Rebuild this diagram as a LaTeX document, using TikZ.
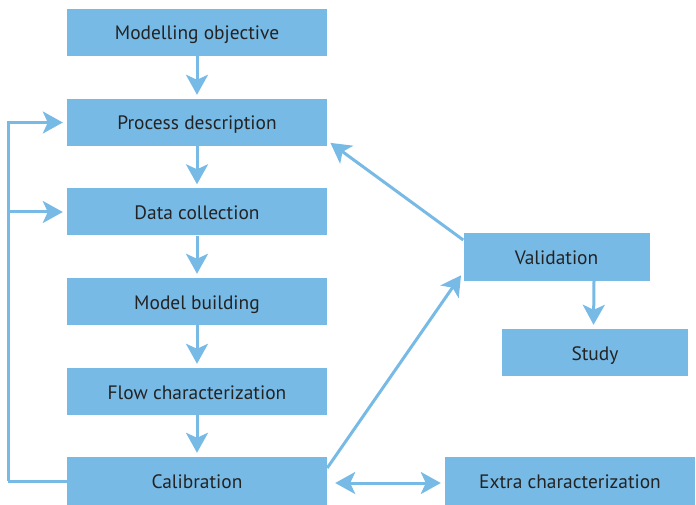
\documentclass[tikz,border=0pt]{standalone}
\usepackage{fontspec}
\setmainfont{PT Sans}
\usetikzlibrary{arrows.meta}
\definecolor{boxblue}{RGB}{120,186,230}
\definecolor{textgray}{RGB}{35,35,35}
\tikzset{
  box/.style={fill=boxblue, text=textgray, minimum height=47bp, inner sep=0pt, text height=15bp, text depth=0bp, font=\fontsize{19.5}{22}\selectfont},
  link/.style={draw=boxblue, line width=3bp, shorten >=4bp, -{Stealth[length=20bp,width=22bp,inset=5bp]}},
  plain/.style={draw=boxblue, line width=3bp},
}
\begin{document}
\begin{tikzpicture}[x=1bp, y=-1bp]
\useasboundingbox (0,0) rectangle (696,505);
\node (objective) [box, minimum width=260bp] at (197,32.5) {Modelling objective};
\node (process) [box, minimum width=260bp] at (197,122.5) {Process description};
\node (data) [box, minimum width=260bp] at (197,212) {Data collection};
\node (model) [box, minimum width=260bp] at (197,301.5) {Model building};
\node (flow) [box, minimum width=260bp] at (197,391.5) {Flow characterization};
\node (calib) [box, minimum width=260bp, minimum height=48bp] at (197,481) {Calibration};
\node (valid) [box, minimum width=186bp] at (556.5,257) {Validation};
\node (study) [box, minimum width=186bp] at (595,352.5) {Study};
\node (extra) [box, minimum width=250bp, minimum height=48bp] at (570,481) {Extra characterization};
\coordinate (corner) at (8,481);

\draw [link] (objective) -- (process);
\draw [link] (process) -- (data);
\draw [link] (data) -- (model);
\draw [link] (model) -- (flow);
\draw [link] (flow) -- (calib);
\draw [link] ([xshift=37.5bp]valid.south) -- ([xshift=-1.5bp]study.north);

\draw [plain] (calib) -- (corner);
\draw [link] (corner) |- (process);
\draw [link] (corner) |- (data);

\draw [link] ([yshift=13bp]calib.east) -- ([yshift=-15bp]valid.west);
\draw [link] ([yshift=17bp]valid.west) -- ([yshift=-18bp]process.east);
\draw [link, shorten <=8bp, {Stealth[length=20bp,width=22bp,inset=5bp]}-{Stealth[length=20bp,width=22bp,inset=5bp]}] ([yshift=-2bp]calib.east) -- ([yshift=-2bp]extra.west);
\end{tikzpicture}
\end{document}
